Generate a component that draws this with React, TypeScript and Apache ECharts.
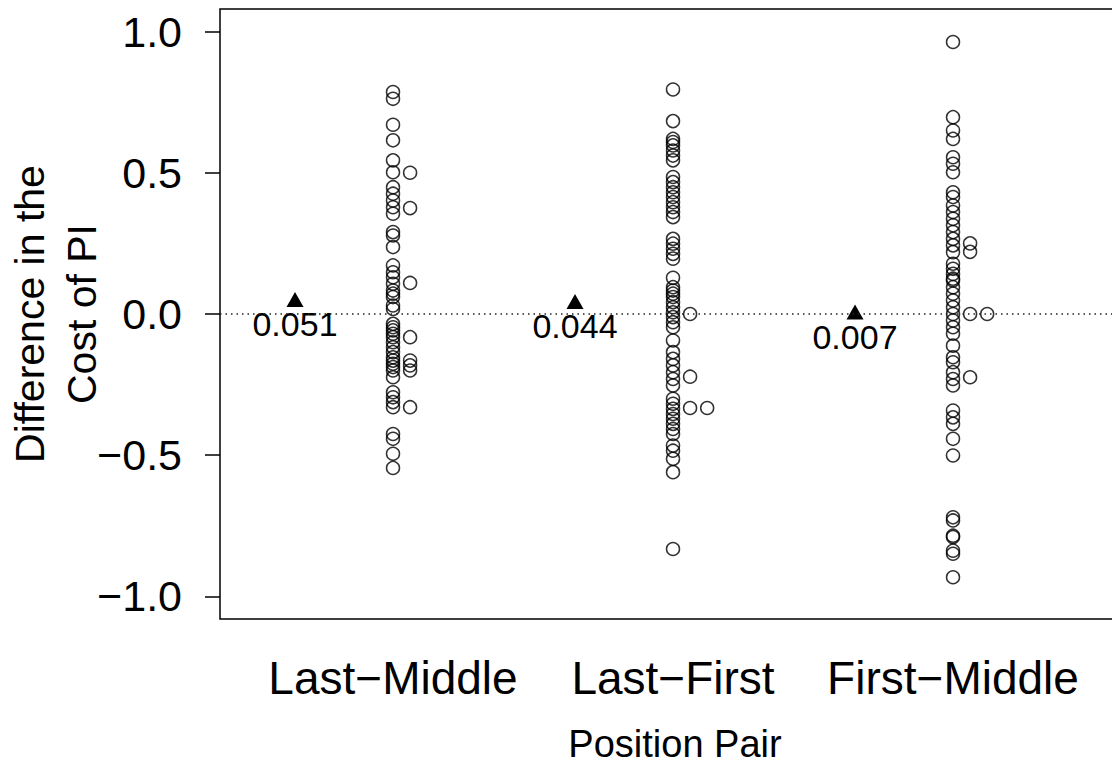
import React, { useEffect, useRef } from "react";
import * as echarts from "echarts";

const categories = ["Last−Middle", "Last−First", "First−Middle"];
const yTicks = [-1, -0.5, 0, 0.5, 1];
const meanValues = [0.051, 0.044, 0.007];
const meanLabels = ["0.051", "0.044", "0.007"];

// Last−Middle
const lastMiddleMain = [0.786, 0.762, 0.67, 0.615, 0.544, 0.502, 0.449, 0.426, 0.402, 0.378, 0.355, 0.29, 0.278, 0.237, 0.172, 0.148, 0.13, 0.107, 0.083, 0.072, 0.06, 0.03, 0.018, -0.035, -0.047, -0.058, -0.07, -0.082, -0.1, -0.118, -0.135, -0.153, -0.165, -0.176, -0.188, -0.2, -0.224, -0.277, -0.295, -0.312, -0.33, -0.425, -0.442, -0.495, -0.545];
const lastMiddleSide1 = [0.5, 0.375, 0.11, -0.082, -0.165, -0.182, -0.2, -0.33];
const lastMiddleSide2: number[] = [];

// Last−First
const lastFirstMain = [0.795, 0.683, 0.62, 0.609, 0.597, 0.579, 0.561, 0.544, 0.485, 0.467, 0.449, 0.431, 0.414, 0.396, 0.378, 0.361, 0.343, 0.266, 0.249, 0.231, 0.213, 0.196, 0.128, 0.095, 0.083, 0.072, 0.06, 0.042, 0.024, 0.006, -0.011, -0.029, -0.047, -0.094, -0.135, -0.159, -0.182, -0.206, -0.23, -0.253, -0.3, -0.318, -0.336, -0.354, -0.371, -0.389, -0.407, -0.425, -0.466, -0.484, -0.513, -0.56, -0.832];
const lastFirstSide1 = [0.0, -0.222, -0.333];
const lastFirstSide2 = [-0.333];

// First−Middle
const firstMiddleMain = [0.963, 0.697, 0.65, 0.62, 0.555, 0.532, 0.502, 0.431, 0.414, 0.384, 0.361, 0.337, 0.314, 0.29, 0.266, 0.243, 0.219, 0.178, 0.16, 0.142, 0.125, 0.119, 0.095, 0.072, 0.048, 0.024, 0.0, -0.023, -0.047, -0.07, -0.112, -0.153, -0.171, -0.206, -0.23, -0.253, -0.342, -0.366, -0.389, -0.442, -0.501, -0.72, -0.731, -0.785, -0.79, -0.838, -0.849, -0.932];
const firstMiddleSide1 = [0.25, 0.22, 0.0, -0.224];
const firstMiddleSide2 = [0.0];

const groups = [
  [lastMiddleMain, lastMiddleSide1, lastMiddleSide2],
  [lastFirstMain, lastFirstSide1, lastFirstSide2],
  [firstMiddleMain, firstMiddleSide1, firstMiddleSide2],
];

const JITTER = 0.061;
const MEAN_SHIFT = 0.35;
const FONT = "'Liberation Sans', Arial, Helvetica, sans-serif";

function fmt(v: number) {
  return (v < 0 ? "\u2212" : "") + Math.abs(v).toFixed(1);
}

export default function App() {
  const ref = useRef<HTMLDivElement>(null);
  useEffect(() => {
    if (!ref.current) return;
    const chart = echarts.init(ref.current, undefined, { renderer: "svg" });
    const points: number[][] = [];
    groups.forEach((cols, ci) => {
      cols.forEach((vals, k) => {
        vals.forEach((v) => points.push([ci + 1 + k * JITTER, v]));
      });
    });
    const means = meanValues.map((v, i) => ({
      value: [i + 1 - MEAN_SHIFT, v],
      label: { formatter: meanLabels[i] },
    }));
    chart.setOption({
      animation: false,
      backgroundColor: "#fff",
      textStyle: { fontFamily: FONT },
      grid: {
        left: 220,
        top: 9,
        width: 910,
        height: 610,
        show: true,
        borderColor: "#000",
        borderWidth: 1.5,
        backgroundColor: "transparent",
        containLabel: false,
        outerBoundsMode: "none",
      },
      xAxis: {
        type: "value",
        min: 0.3821,
        max: 0.3821 + 910 / 280,
        axisLine: { show: false },
        axisTick: { show: false },
        splitLine: { show: false },
        axisLabel: {
          customValues: [1, 2, 3],
          formatter: (v: number) => categories[Math.round(v) - 1],
          fontSize: 46,
          color: "#000",
          margin: 36,
          fontFamily: FONT,
        },
        name: "Position Pair",
        nameLocation: "middle",
        nameGap: 106,
        nameTextStyle: { fontSize: 38, color: "#000", fontFamily: FONT },
      },
      yAxis: {
        type: "value",
        min: -1.08,
        max: 1.08,
        axisLine: { show: false },
        splitLine: { show: false },
        axisTick: {
          show: true,
          customValues: yTicks,
          length: 15,
          inside: false,
          lineStyle: { color: "#000", width: 1.5 },
        },
        axisLabel: {
          customValues: yTicks,
          formatter: fmt,
          fontSize: 43,
          color: "#000",
          margin: 38,
          fontFamily: FONT,
        },
        name: "Difference in the\nCost of PI",
        nameLocation: "middle",
        nameGap: 112,
        nameMoveOverlap: false,
        nameRotate: 90,
        nameTextStyle: { fontSize: 41, color: "#000", lineHeight: 52, fontFamily: FONT, align: "center" },
      },
      series: [
        {
          type: "scatter",
          data: points,
          symbol: "circle",
          symbolSize: 13,
          itemStyle: { color: "rgba(0,0,0,0)", borderColor: "#000", borderWidth: 1.5 },
          markLine: {
            silent: true,
            symbol: "none",
            label: { show: false },
            lineStyle: { color: "#222", width: 1.5, type: [1.5, 4] },
            data: [{ yAxis: 0 }],
          },
          z: 3,
        },
        {
          type: "scatter",
          data: means,
          symbol: "triangle",
          symbolSize: [17, 15],
          itemStyle: { color: "#000", opacity: 1 },
          label: {
            show: true,
            position: "bottom",
            distance: 0,
            fontSize: 34,
            color: "#000",
            opacity: 1,
            fontFamily: FONT,
          },
          z: 4,
        },
      ],
    });
    return () => chart.dispose();
  }, []);
  return (
    <div
      ref={ref}
      style={{ position: "fixed", left: 0, top: 0, width: 1112, height: 767, background: "#fff" }}
    />
  );
}
